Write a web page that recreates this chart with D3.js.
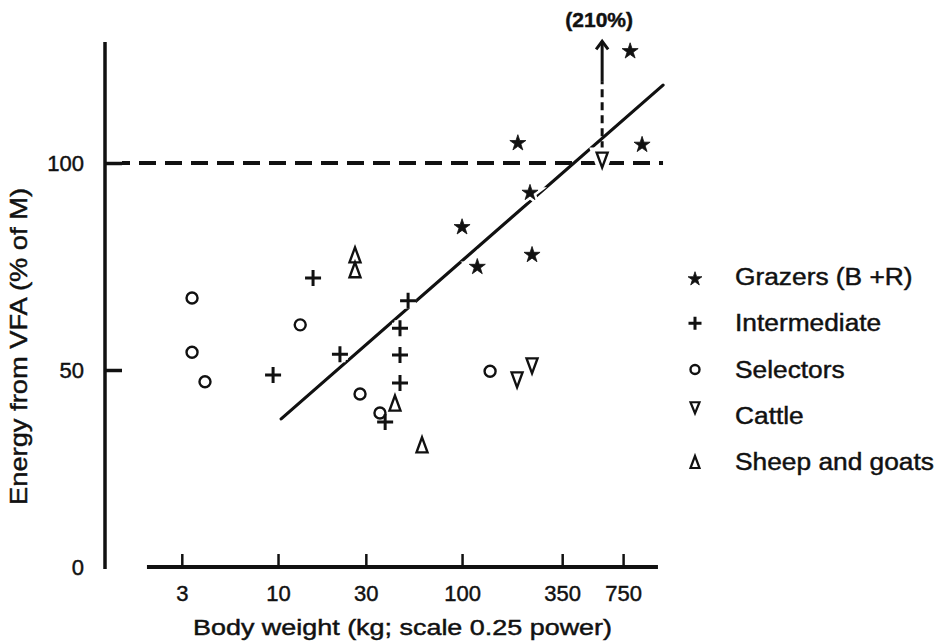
<!DOCTYPE html>
<html>
<head>
<meta charset="utf-8">
<script src="https://cdn.jsdelivr.net/npm/d3@7/dist/d3.min.js"></script>
<style>
  body { margin: 0; background: #fff; }
  text { font-family: "Liberation Sans", Arial, sans-serif; fill: #111; stroke: #111; stroke-width: 0.45px; }
</style>
</head>
<body>
<div id="chart"></div>
<script>
// [body weight kg, energy from VFA % of M]
const grazers = [[819, 127], [201, 104.8], [951, 104.4], [234, 92.8], [100, 84.5], [121, 74.9], [240, 77.8]];
const intermediate = [[15.5, 72.2], [9.4, 48.7], [21.7, 53.8], [50.9, 66.7], [46, 60.1], [46, 53.6], [46, 46.7], [38.2, 36.8]];
const selectors = [[3.41, 67.4], [3.41, 54.3], [4.01, 47.0], [13.2, 60.9], [27.9, 43.9], [35.8, 39.1], [142, 49.7]];
const cattle = [[199, 47.5], [240, 51.0], [577, 100.7]];
const sheepGoats = [[26.2, 77.8], [26.2, 74.2], [43.2, 41.6], [60.6, 31.0]];

const regression = [[10.4, 37.6], [1236, 118.8]];
const xTicks = [3, 10, 30, 100, 350, 750];
const yTicks = [0, 50, 100];
const legendNames = ['Grazers (B +R)', 'Intermediate', 'Selectors', 'Cattle', 'Sheep and goats'];

const width = 945, height = 642;

const svg = d3.select('#chart').append('svg')
    .attr('width', width)
    .attr('height', height);

// axis drawn in roughly log spacing, as in the figure
const x = d3.scaleLog().domain([3, 750]).range([181.8, 623.1]);
const y = d3.scaleLinear().domain([0, 50, 100]).range([567, 370, 163]);

// shapes
const star = d3.symbol().type(d3.symbolStar);
const plusPath = s => `M${-s},0H${s}M0,${-s}V${s}`;
const triUp = (w, h) => `M0,${-h / 2}L${w / 2},${h / 2}L${-w / 2},${h / 2}Z`;
const triDown = (w, h) => `M0,${h / 2}L${w / 2},${-h / 2}L${-w / 2},${-h / 2}Z`;

const groups = [
    { data: grazers, d: star.size(80)(), fill: '#111', sw: 0.8, halo: 5 },
    { data: intermediate, d: plusPath(8), fill: 'none', sw: 3, halo: 8 },
    { data: selectors, circle: 5.5, fill: 'none', sw: 2.4, halo: 6 },
    { data: cattle, d: triDown(11, 15), fill: 'none', sw: 2.4, halo: 8 },
    { data: sheepGoats, d: triUp(11, 15), fill: 'none', sw: 2.4, halo: 6 }
];

// y axis
svg.append('line')
    .attr('x1', 105).attr('x2', 105)
    .attr('y1', y(129.2)).attr('y2', 569)
    .attr('stroke', '#111').attr('stroke-width', 3.5);

const yAxis = svg.append('g')
    .attr('transform', 'translate(105,0)')
    .call(d3.axisRight(y).tickValues(yTicks).tickSize(17).tickFormat(d3.format('d')));
yAxis.select('.domain').remove();
yAxis.selectAll('.tick line').attr('stroke', '#111').attr('stroke-width', 3.5)
    .filter(d => d === 0).remove();
yAxis.selectAll('.tick text')
    .attr('x', -21).attr('dy', '0.36em')
    .attr('text-anchor', 'end')
    .style('font-size', '22px').style('font-family', '"Liberation Sans", Arial, sans-serif')
    .attr('fill', '#111');

// x axis
svg.append('line')
    .attr('x1', x(1.94)).attr('x2', x(1160))
    .attr('y1', 567).attr('y2', 567)
    .attr('stroke', '#111').attr('stroke-width', 4);

const xAxis = svg.append('g')
    .attr('transform', 'translate(0,567)')
    .call(d3.axisBottom(x).tickValues(xTicks).tickSize(-13).tickPadding(18).tickFormat(d3.format('d')));
xAxis.select('.domain').remove();
xAxis.selectAll('.tick line').attr('stroke', '#111').attr('stroke-width', 2.5);
xAxis.selectAll('.tick text')
    .style('font-size', '22px').style('font-family', '"Liberation Sans", Arial, sans-serif')
    .attr('fill', '#111');

// axis titles
svg.append('text')
    .attr('x', 193).attr('y', 635)
    .attr('textLength', 419).attr('lengthAdjust', 'spacingAndGlyphs')
    .style('font-size', '22px')
    .text('Body weight (kg; scale 0.25 power)');

svg.append('text')
    .attr('transform', 'translate(27,505) rotate(-90)')
    .attr('textLength', 317).attr('lengthAdjust', 'spacingAndGlyphs')
    .style('font-size', '24px')
    .text('Energy from VFA (% of M)');

// 100% reference line
svg.append('line')
    .attr('x1', 122).attr('x2', x(1236))
    .attr('y1', y(100)).attr('y2', y(100))
    .attr('stroke', '#111').attr('stroke-width', 4)
    .attr('stroke-dasharray', '17,9').attr('stroke-dashoffset', -17);

// regression line
svg.append('line')
    .attr('x1', x(regression[0][0])).attr('y1', y(regression[0][1]))
    .attr('x2', x(regression[1][0])).attr('y2', y(regression[1][1]))
    .attr('stroke', '#111').attr('stroke-width', 3.2).attr('stroke-linecap', 'round');

// off-scale arrow (210%)
const ax = x(cattle[2][0]);
svg.append('line')
    .attr('x1', ax).attr('x2', ax)
    .attr('y1', y(103.3)).attr('y2', y(119.6))
    .attr('stroke', '#111').attr('stroke-width', 3)
    .attr('stroke-dasharray', '8,5');
svg.append('line')
    .attr('x1', ax).attr('x2', ax)
    .attr('y1', y(119.6)).attr('y2', y(129.4))
    .attr('stroke', '#111').attr('stroke-width', 3);
svg.append('path')
    .attr('d', `M${ax - 6},${y(129.4) + 8}L${ax},${y(129.4)}L${ax + 6},${y(129.4) + 8}`)
    .attr('fill', 'none').attr('stroke', '#111').attr('stroke-width', 3);
svg.append('text')
    .attr('x', ax - 3).attr('y', 27)
    .attr('text-anchor', 'middle')
    .style('font-size', '21px').style('font-weight', 'bold')
    .text('(210%)');

// white halos so the lines break around the marks
function drawMarks(g, halo) {
    const sel = svg.append('g').selectAll(null)
        .data(g.data)
        .enter();
    const m = g.circle
        ? sel.append('circle').attr('r', g.circle).attr('cx', d => x(d[0])).attr('cy', d => y(d[1]))
        : sel.append('path').attr('d', g.d).attr('transform', d => `translate(${x(d[0])},${y(d[1])})`);
    if (halo) {
        m.attr('fill', g.fill === 'none' ? 'none' : '#fff')
         .attr('stroke', '#fff').attr('stroke-width', g.sw + g.halo);
    } else {
        m.attr('fill', g.fill).attr('stroke', '#111').attr('stroke-width', g.sw)
         .attr('stroke-linejoin', 'miter');
    }
}
groups.forEach(g => drawMarks(g, true));
groups.forEach(g => drawMarks(g, false));

// legend
const legendShapes = [
    { d: star.size(60)(), fill: '#111', sw: 0.8 },
    { d: plusPath(6.5), fill: 'none', sw: 3 },
    { circle: 4.5, fill: 'none', sw: 2.4 },
    { d: triDown(9, 11), fill: 'none', sw: 2.2 },
    { d: triUp(9, 12), fill: 'none', sw: 2.2 }
];
const legendY = d3.scaleLinear().domain([0, 4]).range([285, 470]);
const markOffset = [6, 8, 8, 16, 8];

legendNames.forEach((name, i) => {
    const s = legendShapes[i];
    const my = legendY(i) - markOffset[i];
    if (s.circle) {
        svg.append('circle').attr('cx', 695).attr('cy', my).attr('r', s.circle)
            .attr('fill', 'none').attr('stroke', '#111').attr('stroke-width', s.sw);
    } else {
        svg.append('path').attr('d', s.d).attr('transform', `translate(695,${my})`)
            .attr('fill', s.fill).attr('stroke', '#111').attr('stroke-width', s.sw);
    }
    svg.append('text')
        .attr('transform', `translate(735,${legendY(i)}) scale(1.12,1)`)
        .style('font-size', '23.5px')
        .text(name);
});
</script>
</body>
</html>
